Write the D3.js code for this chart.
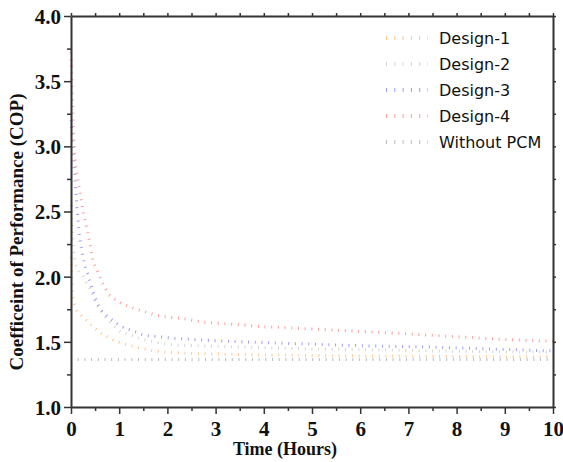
<!DOCTYPE html>
<html>
<head>
<meta charset="utf-8">
<script src="https://cdn.jsdelivr.net/npm/d3@7"></script>
<style>
  body { margin: 0; background: #fff; }
</style>
</head>
<body>
<svg id="svg" width="563" height="462"></svg>
<script>
var svg = d3.select("#svg");

// data (time in hours, COP)
var names = ["Design-1", "Design-2", "Design-3", "Design-4", "Without PCM"];
var colors = ["#ffc890", "#d4d4d4", "#9c9cff", "#ff9c9c", "#bcbcbc"];

var tDesign1 = [0, 0.03, 0.06, 0.12, 0.22, 0.36, 0.48, 0.62, 0.75, 0.89, 1.03, 1.18, 1.45, 1.72, 2.0, 2.53, 3.2, 4.0, 5.0, 6.0, 7.0, 8.5, 10];
var cDesign1 = [2.15, 1.9, 1.8, 1.74, 1.70, 1.65, 1.61, 1.565, 1.54, 1.51, 1.49, 1.475, 1.45, 1.43, 1.42, 1.41, 1.405, 1.40, 1.395, 1.392, 1.39, 1.387, 1.385];

var tDesign2 = [0, 0.04, 0.08, 0.18, 0.26, 0.33, 0.43, 0.5, 0.6, 0.71, 0.84, 0.95, 1.05, 1.19, 1.33, 1.47, 1.6, 1.85, 2.16, 2.6, 3.57, 4.9, 6.0, 7.5, 10];
var cDesign2 = [2.55, 2.3, 2.1, 2.03, 2.0, 1.95, 1.88, 1.8, 1.75, 1.69, 1.64, 1.60, 1.57, 1.56, 1.54, 1.52, 1.51, 1.49, 1.475, 1.47, 1.46, 1.445, 1.44, 1.43, 1.42];

var tDesign3 = [0, 0.04, 0.08, 0.12, 0.17, 0.21, 0.26, 0.3, 0.35, 0.41, 0.5, 0.57, 0.67, 0.81, 0.96, 1.09, 1.24, 1.38, 1.51, 1.65, 1.8, 2.2, 2.9, 3.6, 4.3, 4.9, 6.0, 7.5, 8.7, 10];
var cDesign3 = [3.2, 3.0, 2.75, 2.55, 2.33, 2.23, 2.13, 2.07, 2.02, 1.94, 1.84, 1.78, 1.72, 1.68, 1.64, 1.61, 1.59, 1.57, 1.55, 1.545, 1.54, 1.525, 1.51, 1.50, 1.49, 1.483, 1.47, 1.46, 1.445, 1.43];

var tDesign4 = [0, 0.03, 0.06, 0.1, 0.15, 0.2, 0.26, 0.33, 0.39, 0.46, 0.53, 0.64, 0.79, 0.93, 1.07, 1.21, 1.35, 1.5, 1.75, 2.0, 2.3, 2.75, 3.15, 3.55, 4.0, 4.4, 4.9, 5.5, 6.0, 6.8, 7.5, 8.2, 8.9, 9.5, 10];
var cDesign4 = [3.72, 3.35, 3.05, 2.85, 2.72, 2.62, 2.48, 2.37, 2.26, 2.11, 2.06, 1.96, 1.86, 1.82, 1.79, 1.77, 1.75, 1.735, 1.705, 1.69, 1.68, 1.65, 1.64, 1.63, 1.615, 1.61, 1.60, 1.59, 1.58, 1.565, 1.55, 1.535, 1.52, 1.51, 1.505];

var tNoPCM = [0, 2, 4, 6, 8, 10];
var cNoPCM = [1.365, 1.365, 1.365, 1.365, 1.365, 1.365];

var xTicks = [0, 1, 2, 3, 4, 5, 6, 7, 8, 9, 10];
var yTicks = [1.0, 1.5, 2.0, 2.5, 3.0, 3.5, 4.0];

var series = [
  [tDesign1, cDesign1],
  [tDesign2, cDesign2],
  [tDesign3, cDesign3],
  [tDesign4, cDesign4],
  [tNoPCM, cNoPCM]
].map((s, i) => ({ name: names[i], color: colors[i], pts: s[0].map((t, j) => [t, s[1][j]]) }));

var L = 71, R = 553, T = 16, B = 407;
var x = d3.scaleLinear().domain([0, 10]).range([L, R]);
var y = d3.scaleLinear().domain([1, 4]).range([B, T]);

var serif = "'Liberation Serif', 'Times New Roman', serif";
var axisCol = "#333";

// curves (dotted, light)
var line = d3.line().x(d => x(d[0])).y(d => y(d[1]));
svg.append("g").selectAll("path").data(series).enter()
  .append("path")
  .attr("d", d => line(d.pts))
  .attr("fill", "none")
  .attr("stroke", d => d.color)
  .attr("stroke-width", 3)
  .attr("stroke-dasharray", "1,5.7");

// axes
function styleAxis(g) {
  g.select(".domain").attr("stroke", axisCol).attr("stroke-width", 2);
  g.selectAll(".tick line").attr("stroke", axisCol).attr("stroke-width", 1.5);
}

var gx = svg.append("g").attr("transform", "translate(0," + B + ")")
  .call(d3.axisBottom(x).tickValues(xTicks).tickSize(7).tickSizeOuter(0).tickFormat(d3.format("d")));
gx.selectAll(".tick text").attr("font-family", serif).attr("font-weight", "bold").attr("font-size", 21).attr("fill", "#111").attr("dy", "0.9em");
styleAxis(gx);
svg.append("g").attr("transform", "translate(0," + B + ")")
  .call(d3.axisBottom(x).tickValues(d3.range(0.5, 10, 1)).tickSize(4).tickFormat(""))
  .call(g => g.select(".domain").remove())
  .call(styleAxis);

var gy = svg.append("g").attr("transform", "translate(" + L + ",0)")
  .call(d3.axisLeft(y).tickValues(yTicks).tickSize(7).tickSizeOuter(0).tickFormat(d3.format(".1f")));
gy.selectAll(".tick text").attr("font-family", serif).attr("font-weight", "bold").attr("font-size", 21).attr("fill", "#111").attr("dy", "0.35em");
styleAxis(gy);
svg.append("g").attr("transform", "translate(" + L + ",0)")
  .call(d3.axisLeft(y).tickValues(d3.range(1.25, 4, 0.5)).tickSize(4).tickFormat(""))
  .call(g => g.select(".domain").remove())
  .call(styleAxis);

// top and right frame
svg.append("g").attr("transform", "translate(0," + T + ")")
  .call(d3.axisTop(x).tickValues(d3.range(0, 10.01, 0.5)).tickSize(3).tickSizeOuter(0).tickFormat(""))
  .call(styleAxis);
svg.append("g").attr("transform", "translate(" + R + ",0)")
  .call(d3.axisRight(y).tickValues(d3.range(1, 4.01, 0.25)).tickSize(3).tickSizeOuter(0).tickFormat(""))
  .call(styleAxis);

// axis titles
svg.append("text")
  .attr("x", 285).attr("y", 455)
  .attr("text-anchor", "middle")
  .attr("font-family", serif).attr("font-weight", "bold").attr("font-size", 18)
  .attr("fill", "#111")
  .text("Time (Hours)");

svg.append("text")
  .attr("transform", "translate(23,232) rotate(-90)")
  .attr("text-anchor", "middle")
  .attr("font-family", serif).attr("font-weight", "bold").attr("font-size", 19)
  .attr("fill", "#111")
  .text("Coefficeint of Performance (COP)");

// legend
var leg = svg.append("g").selectAll("g").data(series).enter()
  .append("g").attr("transform", (d, i) => "translate(386," + (38 + 26 * i) + ")");
leg.append("line")
  .attr("x1", 0).attr("x2", 42).attr("y1", 0).attr("y2", 0)
  .attr("stroke", d => d.color).attr("stroke-width", 4)
  .attr("stroke-dasharray", "1,7.3");
leg.append("text")
  .attr("x", 53).attr("y", 0).attr("dy", "0.35em")
  .attr("font-family", "'DejaVu Sans', sans-serif").attr("font-size", 16)
  .attr("fill", "#111")
  .text(d => d.name);
</script>
</body>
</html>
